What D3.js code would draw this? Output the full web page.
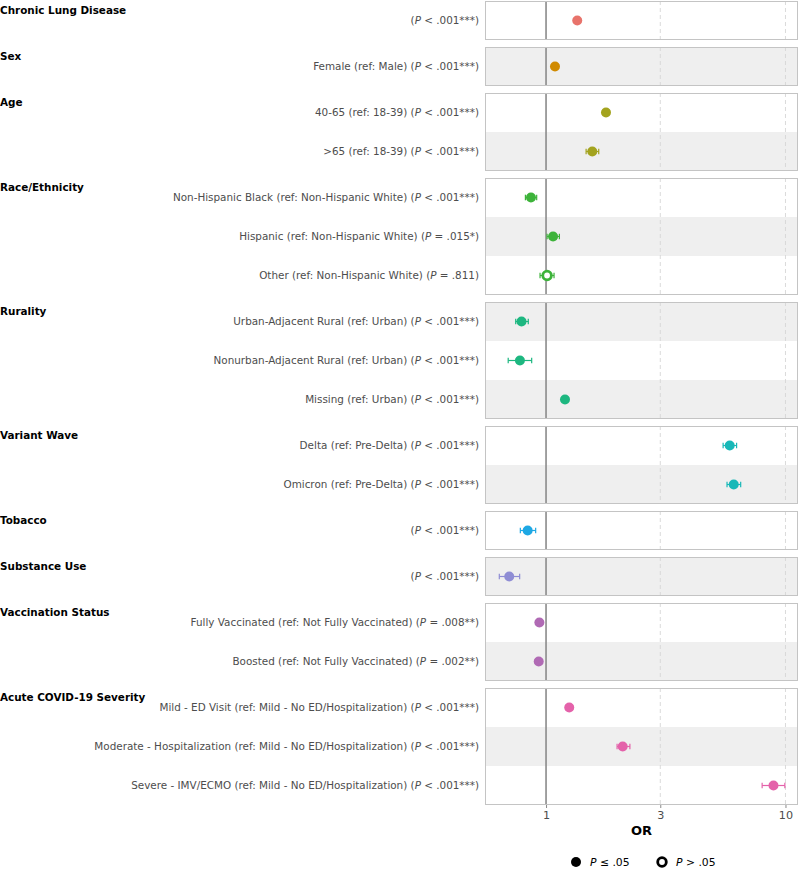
<!DOCTYPE html>
<html>
<head>
<meta charset="utf-8">
<script src="https://cdn.jsdelivr.net/npm/d3@7"></script>
<style>
  body { margin: 0; background: #fff; }
  svg { font-family: "DejaVu Sans", sans-serif; }
</style>
</head>
<body>
<div id="chart"></div>
<script>
// groups (facets) in display order
const groups = ['Chronic Lung Disease', 'Sex', 'Age', 'Race/Ethnicity', 'Rurality',
  'Variant Wave', 'Tobacco', 'Substance Use', 'Vaccination Status', 'Acute COVID-19 Severity'];
const groupColors = ['#e8736b', '#d08a00', '#a3a31e', '#3db33a', '#1db780',
  '#18b8b8', '#1ea8e4', '#8f8dd4', '#b06ab4', '#e462aa'];

// rows
const rowGroup = [0, 1, 2, 2, 3, 3, 3, 4, 4, 4, 5, 5, 6, 7, 8, 8, 9, 9, 9];
const rowLevels = ['', 'Female (ref: Male)', '40-65 (ref: 18-39)', '>65 (ref: 18-39)',
  'Non-Hispanic Black (ref: Non-Hispanic White)', 'Hispanic (ref: Non-Hispanic White)',
  'Other (ref: Non-Hispanic White)', 'Urban-Adjacent Rural (ref: Urban)',
  'Nonurban-Adjacent Rural (ref: Urban)', 'Missing (ref: Urban)',
  'Delta (ref: Pre-Delta)', 'Omicron (ref: Pre-Delta)', '', '',
  'Fully Vaccinated (ref: Not Fully Vaccinated)', 'Boosted (ref: Not Fully Vaccinated)',
  'Mild - ED Visit (ref: Mild - No ED/Hospitalization)',
  'Moderate - Hospitalization (ref: Mild - No ED/Hospitalization)',
  'Severe - IMV/ECMO (ref: Mild - No ED/Hospitalization)'];
const rowP = ['< .001***', '< .001***', '< .001***', '< .001***', '< .001***', '= .015*',
  '= .811', '< .001***', '< .001***', '< .001***', '< .001***', '< .001***', '< .001***',
  '< .001***', '= .008**', '= .002**', '< .001***', '< .001***', '< .001***'];
const rowSig = [1, 1, 1, 1, 1, 1, 0, 1, 1, 1, 1, 1, 1, 1, 1, 1, 1, 1, 1];
const orValues = [1.35, 1.09, 1.78, 1.56, 0.865, 1.07, 1.01, 0.79, 0.778, 1.20,
  5.85, 6.08, 0.838, 0.702, 0.938, 0.932, 1.25, 2.09, 8.91];
const ciLow = [1.32, 1.07, 1.73, 1.47, 0.82, 1.01, 0.944, 0.747, 0.695, 1.18,
  5.49, 5.70, 0.781, 0.638, 0.915, 0.905, 1.21, 1.98, 7.99];
const ciHigh = [1.38, 1.11, 1.83, 1.66, 0.914, 1.137, 1.08, 0.843, 0.871, 1.22,
  6.25, 6.50, 0.905, 0.776, 0.962, 0.96, 1.29, 2.24, 9.94];
const xTicks = [1, 3, 10];

const width = 800, height = 870;
const panelLeft = 485, panelRight = 798;
const rowH = 39, gap = 7, topY = 1;

const svg = d3.select('#chart').append('svg')
  .attr('width', width).attr('height', height);

const x = d3.scaleLog().domain([0.556, 11.28]).range([panelLeft, panelRight]);

// panel layout
const panels = [];
let yPos = topY;
groups.forEach((g, gi) => {
  const rows = rowGroup.map((d, i) => d === gi ? i : -1).filter(i => i >= 0);
  panels.push({ name: g, idx: gi, rows: rows, y0: yPos, h: rows.length * rowH });
  yPos += rows.length * rowH + gap;
});
const rowY = {};
panels.forEach(p => p.rows.forEach((r, k) => { rowY[r] = p.y0 + k * rowH; }));

// row stripes
const stripes = svg.append('g');
rowGroup.forEach((g, i) => {
  stripes.append('rect')
    .attr('x', panelLeft).attr('y', rowY[i])
    .attr('width', panelRight - panelLeft).attr('height', rowH)
    .attr('fill', i % 2 === 1 ? '#efefef' : '#ffffff');
});

const panelG = svg.selectAll('.panel').data(panels).enter().append('g')
  .attr('class', 'panel');

// gridlines, reference line, borders, facet labels
panelG.each(function(p) {
  const g = d3.select(this);
  xTicks.filter(t => t !== 1).forEach(t => {
    g.append('line')
      .attr('x1', x(t)).attr('x2', x(t))
      .attr('y1', p.y0).attr('y2', p.y0 + p.h)
      .attr('stroke', '#d6d6d6').attr('stroke-width', 0.9)
      .attr('stroke-dasharray', '4,3');
  });
  g.append('line')
    .attr('x1', x(1)).attr('x2', x(1))
    .attr('y1', p.y0).attr('y2', p.y0 + p.h)
    .attr('stroke', '#8a8a8a').attr('stroke-width', 1.6);
  g.append('rect')
    .attr('x', panelLeft + 0.5).attr('y', p.y0 + 0.5)
    .attr('width', panelRight - panelLeft - 1).attr('height', p.h - 1)
    .attr('fill', 'none').attr('stroke', '#c4c4c4').attr('stroke-width', 1);
  g.append('text')
    .attr('x', 0).attr('y', p.y0 + 13)
    .attr('font-size', 10.4).attr('font-weight', 'bold').attr('fill', '#000')
    .text(p.name);
});

// row labels
rowGroup.forEach((g, i) => {
  const t = svg.append('text')
    .attr('x', 479).attr('y', rowY[i] + rowH / 2)
    .attr('dy', '0.35em')
    .attr('text-anchor', 'end')
    .attr('font-size', 10.4).attr('fill', '#4d4d4d');
  t.append('tspan').text((rowLevels[i] ? rowLevels[i] + ' ' : '') + '(');
  t.append('tspan').attr('font-style', 'italic').text('P');
  t.append('tspan').text(' ' + rowP[i] + ')');
});

// error bars and points
const marks = svg.selectAll('.mark').data(orValues.map((v, i) => i)).enter().append('g')
  .attr('class', 'mark');
marks.each(function(i) {
  const g = d3.select(this);
  const cy = rowY[i] + rowH / 2;
  const col = groupColors[rowGroup[i]];
  g.append('line')
    .attr('x1', x(ciLow[i])).attr('x2', x(ciHigh[i]))
    .attr('y1', cy).attr('y2', cy)
    .attr('stroke', col).attr('stroke-width', 1.2);
  [ciLow[i], ciHigh[i]].forEach(v => {
    g.append('line')
      .attr('x1', x(v)).attr('x2', x(v))
      .attr('y1', cy - 2.8).attr('y2', cy + 2.8)
      .attr('stroke', col).attr('stroke-width', 1.2);
  });
  if (rowSig[i]) {
    g.append('circle').attr('cx', x(orValues[i])).attr('cy', cy)
      .attr('r', 5).attr('fill', col);
  } else {
    g.append('circle').attr('cx', x(orValues[i])).attr('cy', cy)
      .attr('r', 4.3).attr('fill', '#fff')
      .attr('stroke', col).attr('stroke-width', 2.8);
  }
});

// x axis
const axisY = yPos - gap;
const axis = svg.append('g')
  .attr('transform', `translate(0,${axisY})`)
  .call(d3.axisBottom(x).tickValues(xTicks).tickFormat(d3.format('d')).tickSize(3).tickPadding(3));
axis.select('.domain').remove();
axis.selectAll('.tick line').attr('stroke', '#8a8a8a');
axis.selectAll('.tick text')
  .attr('font-size', 11.2).attr('fill', '#4d4d4d')
  .attr('font-family', '"DejaVu Sans", sans-serif');

svg.append('text')
  .attr('x', (panelLeft + panelRight) / 2).attr('y', axisY + 30)
  .attr('text-anchor', 'middle')
  .attr('font-size', 13).attr('font-weight', 'bold')
  .text('OR');

// legend
const legendItems = [
  { sig: 1, x: 576, label: '≤ .05' },
  { sig: 0, x: 662, label: '> .05' }
];
legendItems.forEach(d => {
  const ly = 862;
  if (d.sig) {
    svg.append('circle').attr('cx', d.x).attr('cy', ly).attr('r', 5).attr('fill', '#000');
  } else {
    svg.append('circle').attr('cx', d.x).attr('cy', ly).attr('r', 4.3)
      .attr('fill', '#fff').attr('stroke', '#000').attr('stroke-width', 2.8);
  }
  const t = svg.append('text')
    .attr('x', d.x + 14).attr('y', ly).attr('dy', '0.35em')
    .attr('font-size', 10.8).attr('fill', '#000');
  t.append('tspan').attr('font-style', 'italic').text('P');
  t.append('tspan').text(' ' + d.label);
});
</script>
</body>
</html>
